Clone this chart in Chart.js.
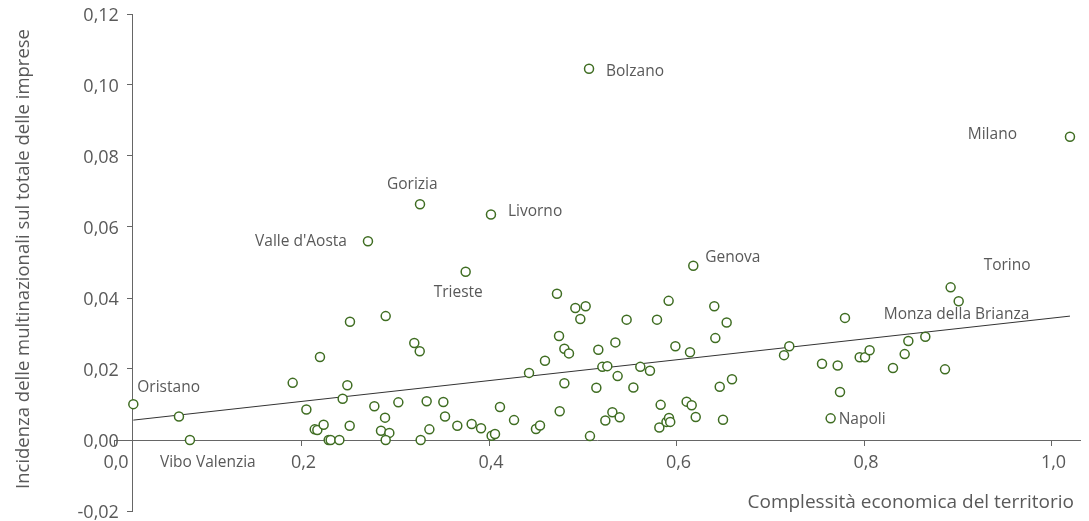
<!DOCTYPE html>
<html><head><meta charset="utf-8">
<script src="https://cdn.jsdelivr.net/npm/chart.js@4.4.1/dist/chart.umd.min.js"></script>
<style>html,body{margin:0;padding:0;background:#fff}#wrap{width:1089px;height:521px}</style>
</head><body><div id="wrap"><canvas id="c" width="1089" height="521"></canvas></div>
<script>
// ---- data ----
const labeledNames = ['Oristano','Vibo Valenzia','Bolzano','Gorizia','Livorno',"Valle d'Aosta",'Trieste','Genova','Milano','Torino','Monza della Brianza','Napoli'];
const labeledX = [0.0206,0.0810,0.5067,0.3264,0.4021,0.2709,0.3751,0.6179,1.0197,0.8924,0.9010,0.7644];
const labeledY = [0.0101,0.0000,0.1046,0.0664,0.0635,0.0560,0.0474,0.0491,0.0854,0.0430,0.0391,0.0061];

const otherX = [0.0693,0.1906,0.2052,0.2197,0.2517,0.2898,0.2489,0.2439,0.2141,0.2169,0.2236,0.2290,0.2311,0.2404,0.2514,0.2777,0.2891,0.2848,0.2937,0.2898,
  0.3033,0.3203,0.3261,0.3335,0.3513,0.3531,0.3364,0.3271,0.3662,0.3815,0.3915,0.4117,0.4028,0.4064,0.4267,0.4501,0.4544,0.4427,0.4597,0.4725,
  0.4921,0.5031,0.4974,0.4747,0.4804,0.4853,0.4804,0.4754,0.5077,0.5166,0.5348,0.5209,0.5262,0.5372,0.5145,0.5468,0.5540,0.5614,0.5717,0.5792,
  0.5916,0.5988,0.5241,0.5316,0.5394,0.5831,0.5817,0.5893,0.5920,0.5933,0.6403,0.6535,0.6414,0.6144,0.6592,0.6461,0.6108,0.6162,0.6205,0.6496,
  0.7203,0.7147,0.7552,0.7719,0.7797,0.7744,0.7954,0.8011,0.8060,0.8309,0.8434,0.8473,0.8654,0.8864];
const otherY = [0.0066,0.0161,0.0086,0.0234,0.0333,0.0349,0.0154,0.0116,0.0030,0.0028,0.0043,0.0000,0.0000,0.0000,0.0040,0.0095,0.0063,0.0026,0.0020,0.0000,
  0.0106,0.0273,0.0250,0.0109,0.0107,0.0066,0.0030,0.0000,0.0040,0.0045,0.0033,0.0093,0.0012,0.0017,0.0056,0.0031,0.0041,0.0189,0.0223,0.0412,
  0.0372,0.0377,0.0341,0.0293,0.0257,0.0244,0.0160,0.0081,0.0011,0.0254,0.0275,0.0206,0.0208,0.0180,0.0147,0.0339,0.0148,0.0206,0.0195,0.0339,
  0.0392,0.0264,0.0055,0.0078,0.0064,0.0099,0.0035,0.0051,0.0062,0.0051,0.0377,0.0331,0.0287,0.0247,0.0171,0.0150,0.0108,0.0098,0.0065,0.0057,
  0.0264,0.0239,0.0215,0.0210,0.0344,0.0135,0.0233,0.0233,0.0253,0.0203,0.0242,0.0279,0.0291,0.0199];

const trendX = [0.0206, 1.0197];
const trendY = [0.0056, 0.0349];

const xTicks = [0, 0.2, 0.4, 0.6, 0.8, 1.0];
const yTicks = [-0.02, 0, 0.02, 0.04, 0.06, 0.08, 0.10, 0.12];
const xTitle = 'Complessità economica del territorio';
const yTitle = 'Incidenza delle multinazionali sul totale delle imprese';

// ---- label placement (style, pixel offsets from the point) ----
const labelPlacement = {
  'Oristano': {dx: 4, dy: -17, align: 'left'},
  'Vibo Valenzia': {dx: -30, dy: 23, align: 'left'},
  'Bolzano': {dx: 17, dy: 3, align: 'left'},
  'Gorizia': {dx: -33, dy: -20, align: 'left'},
  'Livorno': {dx: 17, dy: -3, align: 'left'},
  "Valle d'Aosta": {dx: -21, dy: 0, align: 'right'},
  'Trieste': {dx: -32, dy: 21, align: 'left'},
  'Genova': {dx: 12, dy: -8, align: 'left'},
  'Milano': {dx: -53, dy: -2, align: 'right'},
  'Torino': {dx: 33, dy: -22, align: 'left'},
  'Monza della Brianza': {dx: -75, dy: 13, align: 'left'},
  'Napoli': {dx: 8, dy: 1, align: 'left'}
};

const GREEN = '#3f6d22';
const TEXT = '#595959';
const AXIS = '#666666';
const fmt = (v, d) => v.toFixed(d).replace('.', ',');

const points = labeledX.map((v, i) => ({x: v, y: labeledY[i]}))
  .concat(otherX.map((v, i) => ({x: v, y: otherY[i]})));
const trend = trendX.map((v, i) => ({x: v, y: trendY[i]}));

const annot = {
  id: 'annot',
  afterDraw(chart) {
    const {ctx, scales: {x, y}, chartArea} = chart;
    ctx.save();
    ctx.fillStyle = TEXT;
    // tick labels, placed by the library scales
    ctx.font = '18px "Open Sans"';
    ctx.textBaseline = 'alphabetic';
    ctx.textAlign = 'right';
    const yAxisPx = x.getPixelForValue(0.0196);
    y.ticks.forEach(t => ctx.fillText(fmt(t.value, 2), yAxisPx - 13.5, y.getPixelForValue(t.value) + 6.7));
    ctx.textAlign = 'center';
    const xAxisPx = y.getPixelForValue(0);
    x.ticks.forEach(t => ctx.fillText(fmt(t.value, 1), x.getPixelForValue(t.value) + 2, xAxisPx + 27.5));
    // point labels
    ctx.textBaseline = 'middle';
    ctx.font = '15.5px "Open Sans"';
    labeledNames.forEach((n, i) => {
      const p = labelPlacement[n];
      ctx.textAlign = p.align;
      ctx.fillText(n, x.getPixelForValue(labeledX[i]) + p.dx, y.getPixelForValue(labeledY[i]) + p.dy);
    });
    // axis titles
    ctx.textBaseline = 'alphabetic';
    ctx.font = '19px "Open Sans"';
    ctx.textAlign = 'right';
    ctx.fillText(xTitle, chartArea.right - 6, 508);
    ctx.font = '18.5px "Open Sans"';
    ctx.translate(28.5, 259);
    ctx.rotate(-Math.PI / 2);
    ctx.textAlign = 'center';
    ctx.fillText(yTitle, 0, 0);
    ctx.restore();
  }
};

Chart.defaults.font.family = '"Open Sans", sans-serif';

new Chart(document.getElementById('c'), {
  type: 'scatter',
  data: {
    datasets: [
      {
        label: 'Province',
        data: points,
        pointStyle: 'circle',
        pointRadius: 4.5,
        pointBorderWidth: 1.5,
        borderColor: GREEN,
        backgroundColor: '#ffffff',
        pointBackgroundColor: '#ffffff',
        pointBorderColor: GREEN
      },
      {
        type: 'line',
        label: 'Tendenza',
        data: trend,
        borderColor: '#333333',
        borderWidth: 1,
        pointRadius: 0,
        fill: false
      }
    ]
  },
  options: {
    responsive: false,
    animation: false,
    devicePixelRatio: 1,
    layout: {padding: {left: 114, right: 9, top: 14, bottom: 10}},
    plugins: {legend: {display: false}, tooltip: {enabled: false}},
    scales: {
      x: {
        type: 'linear',
        min: 0, max: 1.0304,
        position: {y: 0},
        afterBuildTicks: s => { s.ticks = xTicks.map(v => ({value: v})); },
        ticks: {display: false, autoSkip: false},
        grid: {drawOnChartArea: false, drawTicks: true, tickLength: 5, color: AXIS},
        border: {display: true, color: AXIS, width: 1}
      },
      y: {
        type: 'linear',
        min: -0.02, max: 0.12,
        position: {x: 0.0196},
        afterBuildTicks: s => { s.ticks = yTicks.map(v => ({value: v})); },
        ticks: {display: false, autoSkip: false},
        grid: {drawOnChartArea: false, drawTicks: true, tickLength: 5, color: AXIS},
        border: {display: true, color: AXIS, width: 1}
      }
    }
  },
  plugins: [annot]
});
</script></body></html>
